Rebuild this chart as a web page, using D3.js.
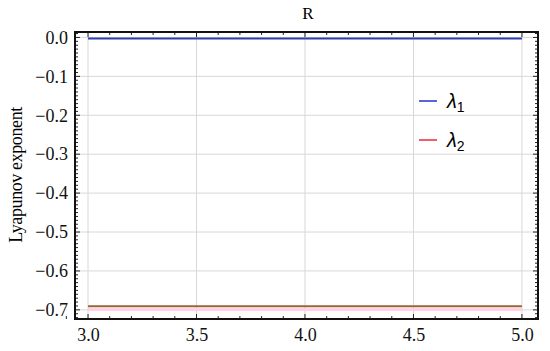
<!DOCTYPE html>
<html>
<head>
<meta charset="utf-8">
<script src="https://cdn.jsdelivr.net/npm/d3@7"></script>
<style>
  body { margin: 0; background: #fff; }
</style>
</head>
<body>
<div id="chart"></div>
<script>
// values
const rValues = [3.0, 3.5, 4.0, 4.5, 5.0];
const lambda1 = [-0.003, -0.003, -0.003, -0.003, -0.003];
const lambda2 = [-0.691, -0.691, -0.691, -0.691, -0.691];
const lambda2Shade = [-0.699, -0.699, -0.699, -0.699, -0.699];
const xTicks = [3.0, 3.5, 4.0, 4.5, 5.0];
const yTicks = [0, -0.1, -0.2, -0.3, -0.4, -0.5, -0.6, -0.7];
const legendNames = ["1", "2"];
const legendColors = ["#2233cc", "#e8283c"];

const serif = "'Liberation Serif', 'Times New Roman', serif";
const width = 550, height = 351;
const margin = {top: 32, right: 12, bottom: 32, left: 75};

const svg = d3.select("#chart").append("svg")
    .attr("width", width)
    .attr("height", height);

const x = d3.scaleLinear()
    .domain([2.94, 5.074])
    .range([margin.left, width - margin.right]);

const y = d3.scaleLinear()
    .domain([-0.7235, 0.014])
    .range([height - margin.bottom, margin.top]);

// grid
svg.append("g").selectAll("line.gx")
    .data(xTicks)
    .enter().append("line")
    .attr("x1", d => x(d)).attr("x2", d => x(d))
    .attr("y1", y.range()[0]).attr("y2", y.range()[1])
    .attr("stroke", "#d8d8d8").attr("stroke-width", 1);
svg.append("g").selectAll("line.gy")
    .data(yTicks)
    .enter().append("line")
    .attr("y1", d => y(d)).attr("y2", d => y(d))
    .attr("x1", x.range()[0]).attr("x2", x.range()[1])
    .attr("stroke", "#d8d8d8").attr("stroke-width", 1);

// series
const line = d3.line().x((d, i) => x(rValues[i])).y(d => y(d));

svg.append("path").datum(lambda2Shade)
    .attr("d", line).attr("fill", "none")
    .attr("stroke", "#ffd0e6").attr("stroke-width", 3);
svg.append("path").datum(lambda2)
    .attr("d", line).attr("fill", "none")
    .attr("stroke", "#9a6536").attr("stroke-width", 2);
svg.append("path").datum(lambda1)
    .attr("d", line).attr("fill", "none")
    .attr("stroke", "#2e3fb0").attr("stroke-width", 2);

// axes (frame-style, ticks inside)
const minorX = d3.range(29, 51).map(d => d / 10);
const minorY = d3.range(-72, 2).map(d => d / 100);

const xAxis = d3.axisBottom(x).tickValues(xTicks).tickFormat(d3.format(".1f")).tickSize(0).tickPadding(9);
const yAxis = d3.axisLeft(y).tickValues(yTicks).tickFormat(d => d === 0 ? "0.0" : d3.format(".1f")(d).replace("-", "\u2212")).tickSize(0).tickPadding(7);

const gx = svg.append("g")
    .attr("transform", "translate(0," + y.range()[0] + ")")
    .call(xAxis);
const gy = svg.append("g")
    .attr("transform", "translate(" + x.range()[0] + ",0)")
    .call(yAxis);
[gx, gy].forEach(g => {
  g.attr("font-family", serif).attr("font-size", 18);
  g.select(".domain").remove();
  g.selectAll("text").attr("fill", "#111");
});

// tick marks on all four sides
const tickG = svg.append("g").attr("stroke", "#222");
minorX.forEach(v => {
  const major = xTicks.some(t => Math.abs(t - v) < 1e-6);
  const len = major ? 5 : 3;
  tickG.append("line").attr("x1", x(v)).attr("x2", x(v))
    .attr("y1", y.range()[0]).attr("y2", y.range()[0] - len);
  tickG.append("line").attr("x1", x(v)).attr("x2", x(v))
    .attr("y1", y.range()[1]).attr("y2", y.range()[1] + len);
});
minorY.forEach(v => {
  const major = yTicks.some(t => Math.abs(t - v) < 1e-6);
  const len = major ? 5 : 3;
  tickG.append("line").attr("y1", y(v)).attr("y2", y(v))
    .attr("x1", x.range()[0]).attr("x2", x.range()[0] + len);
  tickG.append("line").attr("y1", y(v)).attr("y2", y(v))
    .attr("x1", x.range()[1]).attr("x2", x.range()[1] - len);
});

// frame
svg.append("rect")
    .attr("x", x.range()[0]).attr("y", y.range()[1])
    .attr("width", x.range()[1] - x.range()[0])
    .attr("height", y.range()[0] - y.range()[1])
    .attr("fill", "none").attr("stroke", "#111").attr("stroke-width", 2);

// title and axis label
svg.append("text")
    .attr("x", 308)
    .attr("y", 19)
    .attr("text-anchor", "middle")
    .attr("font-family", serif)
    .attr("font-size", 17)
    .text("R");

svg.append("text")
    .attr("transform", "rotate(-90)")
    .attr("x", -175)
    .attr("y", 22)
    .attr("text-anchor", "middle")
    .attr("font-family", serif)
    .attr("font-size", 18)
    .attr("letter-spacing", -0.4)
    .text("Lyapunov exponent");

// legend
const legend = svg.append("g").selectAll("g")
    .data(legendNames)
    .enter().append("g")
    .attr("transform", (d, i) => "translate(419," + (101 + i * 39) + ")");
legend.append("line")
    .attr("x1", 0).attr("x2", 18)
    .attr("stroke", (d, i) => legendColors[i]).attr("stroke-width", 1.5);
const lt = legend.append("text")
    .attr("x", 28).attr("y", 7)
    .attr("font-family", "'Liberation Sans', Arial, sans-serif")
    .attr("font-size", 20)
    .attr("font-style", "italic");
lt.append("tspan").text("\u03bb");
lt.append("tspan").attr("dy", 4).attr("font-size", 14).attr("font-style", "normal").text(d => d);
</script>
</body>
</html>
